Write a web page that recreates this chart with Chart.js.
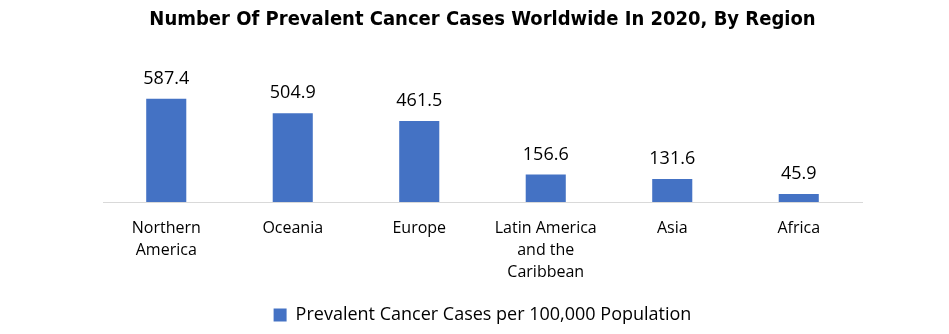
<!DOCTYPE html>
<html>
<head>
<meta charset="utf-8">
<script src="https://cdn.jsdelivr.net/npm/chart.js@4"></script>
<style>
  body { margin: 0; background: #fff; }
  #wrap { width: 949px; height: 334px; }
</style>
</head>
<body>
<div id="wrap"><canvas id="barChart"></canvas></div>
<script>
const regions = [
  ["Northern", "America"],
  ["Oceania"],
  ["Europe"],
  ["Latin America", "and the", "Caribbean"],
  ["Asia"],
  ["Africa"]
];
const casesPer100k = [587.4, 504.9, 461.5, 156.6, 131.6, 45.9];
const seriesName = "Prevalent Cancer Cases per 100,000 Population";

const FONT = "'Open Sans', 'Liberation Sans', sans-serif";

// value labels above each bar
const valueLabels = {
  id: "valueLabels",
  afterDatasetsDraw(chart) {
    const ctx = chart.ctx;
    const meta = chart.getDatasetMeta(0);
    ctx.save();
    ctx.font = "18px " + FONT;
    ctx.fillStyle = "#000";
    ctx.textAlign = "center";
    ctx.textBaseline = "bottom";
    meta.data.forEach((bar, i) => {
      ctx.fillText(casesPer100k[i].toFixed(1), bar.x, bar.y - 11);
    });
    ctx.restore();
  }
};

const ctx = document.getElementById("barChart").getContext("2d");
new Chart(ctx, {
  type: "bar",
  data: {
    labels: regions,
    datasets: [{
      label: seriesName,
      data: casesPer100k,
      backgroundColor: "#4472c4",
      barPercentage: 0.8,
      categoryPercentage: 0.396
    }]
  },
  options: {
    responsive: true,
    maintainAspectRatio: false,
    animation: false,
    layout: { padding: { left: 103, right: 87, top: 0, bottom: 0 } },
    plugins: {
      title: {
        display: true,
        text: "Number Of Prevalent Cancer Cases Worldwide In 2020, By Region",
        color: "#000",
        font: { family: "'Liberation Sans Narrow', 'DejaVu Sans Condensed', 'Liberation Sans', sans-serif", size: 20, weight: "bold" },
        padding: { top: 8, bottom: 47 }
      },
      legend: {
        position: "bottom",
        labels: {
          color: "#000",
          font: { family: FONT, size: 18 },
          boxWidth: 13,
          boxHeight: 13,
          padding: 10
        }
      },
      tooltip: { enabled: false }
    },
    scales: {
      x: {
        grid: { display: false },
        border: { display: true, color: "#d9d9d9", width: 1 },
        ticks: {
          color: "#000",
          font: { family: FONT, size: 16, lineHeight: "22px" },
          padding: 7,
          maxRotation: 0,
          autoSkip: false
        },
        afterFit(scale) { scale.height += 6; }
      },
      y: {
        display: false,
        min: 0,
        max: 700
      }
    }
  },
  plugins: [valueLabels]
});
</script>
</body>
</html>
